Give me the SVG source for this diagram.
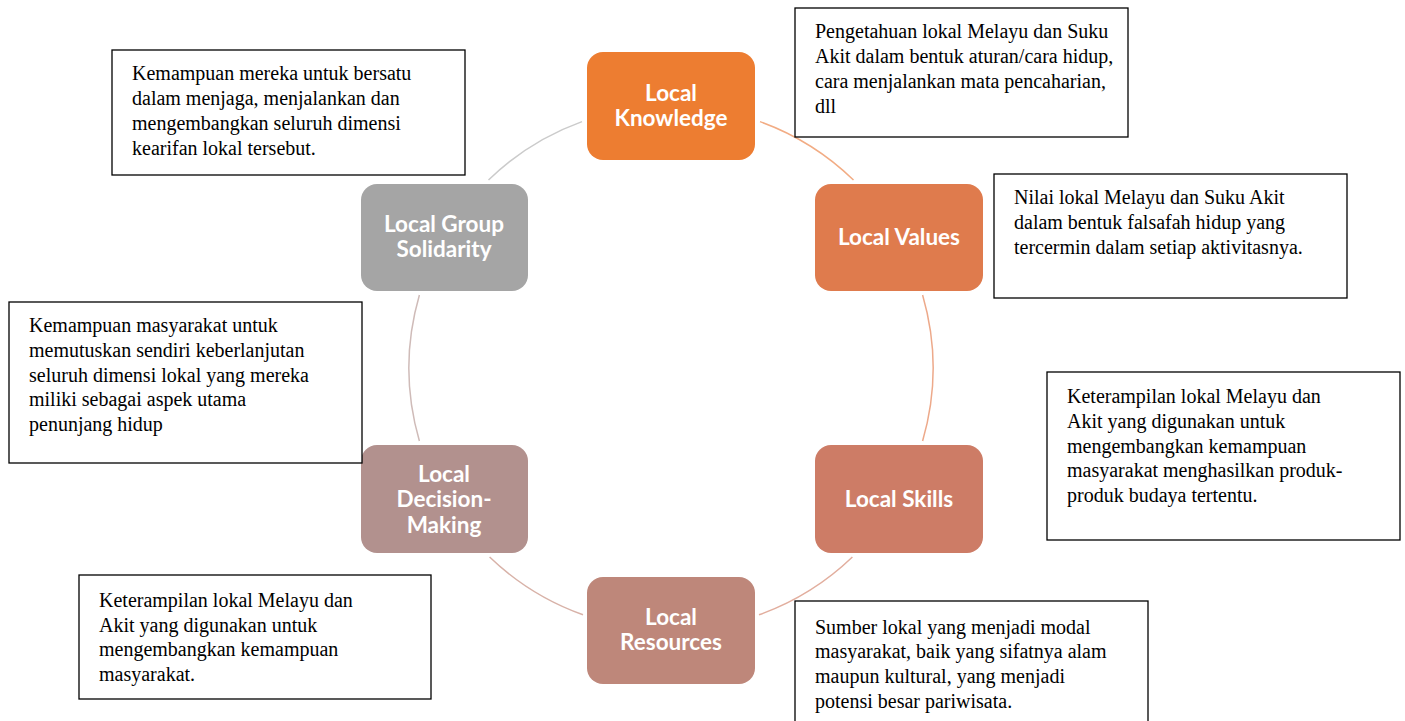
<svg xmlns="http://www.w3.org/2000/svg" width="1405" height="721" viewBox="0 0 1405 721">
<style>
.node text{font-family:Lato,"Open Sans",sans-serif;font-weight:bold;font-size:22.5px;fill:#fff;text-anchor:middle}
.note rect{fill:#fff;stroke:#000;stroke-width:1.3}
.note text{font-family:"Liberation Serif","Times New Roman",serif;font-size:20px;fill:#000}
.arc{fill:none;stroke-width:1.5}
</style>
<rect width="1405" height="721" fill="#fff"/>
<g id="connectors">
<path class="arc" stroke="#F2AC84" d="M760,121.6 A262,262 0 0 1 853.5,180"/>
<path class="arc" stroke="#EDA98A" d="M922.6,295 A262,262 0 0 1 922.6,441"/>
<path class="arc" stroke="#E2AE9E" d="M852.4,557 A262,262 0 0 1 759,614.8"/>
<path class="arc" stroke="#D8B2A8" d="M583,614.8 A262,262 0 0 1 489.6,557"/>
<path class="arc" stroke="#CFBBB8" d="M419.4,441 A262,262 0 0 1 419.4,295"/>
<path class="arc" stroke="#CBCBCB" d="M488.5,180 A262,262 0 0 1 582,121.6"/>
</g>
<g id="local-knowledge" class="node">
<rect x="587" y="52" width="168" height="108" rx="16" fill="#ED7D31"/>
<text x="671" y="101">Local</text><text x="671" y="126">Knowledge</text>
</g>
<g id="local-values" class="node">
<rect x="815" y="184" width="168" height="107" rx="16" fill="#DF7B4D"/>
<text x="899" y="245">Local Values</text>
</g>
<g id="local-skills" class="node">
<rect x="815" y="445" width="168" height="108" rx="16" fill="#CD7C66"/>
<text x="899" y="507">Local Skills</text>
</g>
<g id="local-resources" class="node">
<rect x="587" y="577" width="168" height="107" rx="16" fill="#BE877A"/>
<text x="671" y="625">Local</text><text x="671" y="650">Resources</text>
</g>
<g id="local-decision-making" class="node">
<rect x="361" y="445" width="167" height="108" rx="16" fill="#B2918E"/>
<text x="444" y="482">Local</text><text x="444" y="507">Decision-</text><text x="444" y="533">Making</text>
</g>
<g id="local-group-solidarity" class="node">
<rect x="361" y="184" width="167" height="107" rx="16" fill="#A5A5A5"/>
<text x="444" y="232">Local Group</text><text x="444" y="257">Solidarity</text>
</g>
<g id="note-knowledge" class="note">
<rect x="795" y="8" width="333" height="129"/>
<text x="815" y="38">Pengetahuan lokal Melayu dan Suku</text>
<text x="815" y="63">Akit dalam bentuk aturan/cara hidup,</text>
<text x="815" y="88">cara menjalankan mata pencaharian,</text>
<text x="815" y="113">dll</text>
</g>
<g id="note-solidarity" class="note">
<rect x="112" y="50" width="353" height="125"/>
<text x="132" y="80">Kemampuan mereka untuk bersatu</text>
<text x="132" y="105">dalam menjaga, menjalankan dan</text>
<text x="132" y="130">mengembangkan seluruh dimensi</text>
<text x="132" y="155">kearifan lokal tersebut.</text>
</g>
<g id="note-values" class="note">
<rect x="994" y="174" width="353" height="124"/>
<text x="1014" y="204">Nilai lokal Melayu dan Suku Akit</text>
<text x="1014" y="229">dalam bentuk falsafah hidup yang</text>
<text x="1014" y="254">tercermin dalam setiap aktivitasnya.</text>
</g>
<g id="note-decision" class="note">
<rect x="9" y="302" width="353" height="161"/>
<text x="29" y="332">Kemampuan masyarakat untuk</text>
<text x="29" y="357">memutuskan sendiri keberlanjutan</text>
<text x="29" y="382">seluruh dimensi lokal yang mereka</text>
<text x="29" y="406">miliki sebagai aspek utama</text>
<text x="29" y="431">penunjang hidup</text>
</g>
<g id="note-skills" class="note">
<rect x="1047" y="372" width="353" height="168"/>
<text x="1067" y="403">Keterampilan lokal Melayu dan</text>
<text x="1067" y="428">Akit yang digunakan untuk</text>
<text x="1067" y="453">mengembangkan kemampuan</text>
<text x="1067" y="477">masyarakat menghasilkan produk-</text>
<text x="1067" y="502">produk budaya tertentu.</text>
</g>
<g id="note-resources-left" class="note">
<rect x="79" y="575" width="352" height="124"/>
<text x="99" y="607">Keterampilan lokal Melayu dan</text>
<text x="99" y="632">Akit yang digunakan untuk</text>
<text x="99" y="656">mengembangkan kemampuan</text>
<text x="99" y="681">masyarakat.</text>
</g>
<g id="note-resources" class="note">
<rect x="795" y="601" width="353" height="130"/>
<text x="815" y="634">Sumber lokal yang menjadi modal</text>
<text x="815" y="658">masyarakat, baik yang sifatnya alam</text>
<text x="815" y="683">maupun kultural, yang menjadi</text>
<text x="815" y="708">potensi besar pariwisata.</text>
</g>
</svg>
